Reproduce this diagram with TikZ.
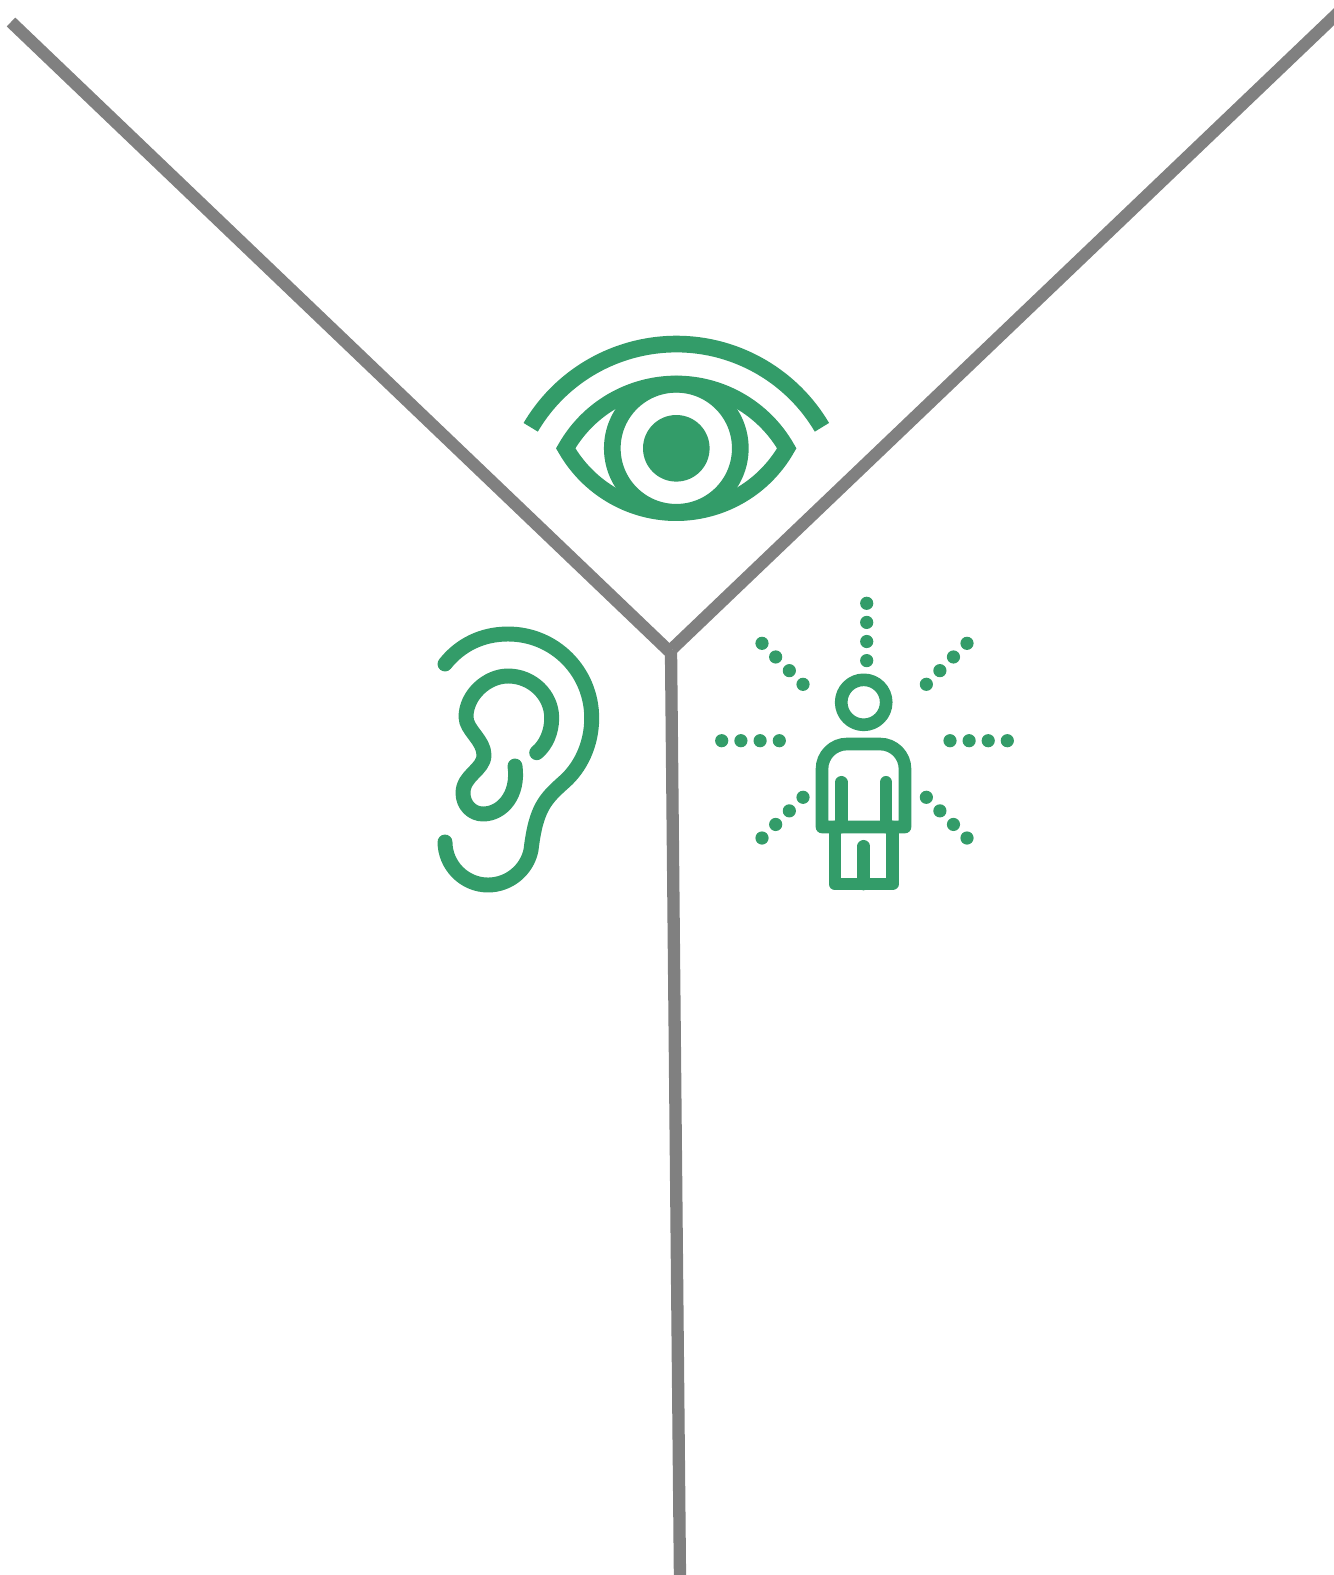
\documentclass[tikz,border=0pt]{standalone}
\usepackage{xcolor}
\usepackage{tikz}
\definecolor{icongreen}{rgb}{0.20, 0.61, 0.41}
\definecolor{spokegray}{rgb}{0.50, 0.50, 0.50}

\begin{document}
\begin{tikzpicture}[
  x=0.02cm, y=-0.02cm,
  spoke/.style={draw=spokegray, line width=7pt},
  eyeline/.style={draw=icongreen, line width=9.5pt},
  earline/.style={draw=icongreen, line width=8.5pt, line cap=round, line join=round},
  bodyline/.style={draw=icongreen, line width=7.2pt, line cap=round, line join=round},
  dotmark/.style={fill=icongreen}
]
  \useasboundingbox (0,0) rectangle (1334,1575);

  % Three spokes
  \coordinate (hubl)   at (670,652);
  \coordinate (hubr)   at (672,649);
  \coordinate (hubb)   at (671,650);
  \coordinate (topl)   at (11,22);
  \coordinate (topr)   at (1340,11);
  \coordinate (bottom) at (680,1580);
  \draw[spoke] (topl) -- (hubl);
  \draw[spoke] (topr) -- (hubr);
  \draw[spoke] (hubb) -- (bottom);

  % Eye
  \coordinate (eye) at (676.3,448.3);
  \draw[eyeline] (530.7,427.3) arc[start angle=-149.5, end angle=-30.5, radius=169];
  \draw[eyeline, miter limit=10] (565.7,448.3) arc[start angle=-150.4, end angle=-29.6, radius=127.1]
        arc[start angle=29.6, end angle=150.4, radius=127.1] -- cycle;
  \draw[eyeline] (eye) circle[radius=64];
  \fill[dotmark] (eye) circle[radius=33.3];

  % Ear
  \draw[earline] (445,664) .. controls (460,645) and (482,634) .. (508,634)
        .. controls (555,634) and (591.7,672) .. (591.7,718)
        .. controls (591.7,745) and (580,768) .. (564,782)
        .. controls (545,799) and (536,808) .. (531,850)
        .. controls (527,870) and (509,885) .. (488,885)
        .. controls (464,885) and (445,865) .. (445,842);
  \draw[earline] (536.7,752.7) .. controls (546,745) and (551.7,732) .. (551.7,718)
        .. controls (551.7,695) and (532,676) .. (508,676)
        .. controls (487,676) and (466,695) .. (466,717)
        .. controls (466,730) and (484,740) .. (484,755)
        .. controls (484,770) and (463,775) .. (463,793)
        .. controls (463,805) and (472,814) .. (483,814)
        .. controls (502,814) and (519,795) .. (515,766);

  % Person
  \draw[bodyline] (863.7,702.3) circle[radius=22.5];
  \draw[bodyline] (822,827) -- (822,769) arc[start angle=180, end angle=270, radius=25]
        -- (880,744) arc[start angle=270, end angle=360, radius=25] -- (905,827) -- cycle;
  \draw[bodyline] (841.3,782.3) -- (841.3,827);
  \draw[bodyline] (886,782.3) -- (886,827);
  \draw[bodyline] (835,827) -- (835,884) -- (892.5,884) -- (892.5,827);
  \draw[bodyline] (863.7,846.3) -- (863.7,884);

  % Dots round the person
  \foreach \d in {0,1,2,3} {
    \fill[dotmark] (866.7,603.3+19.1*\d) circle[radius=6.6];
    \fill[dotmark] (721.7+19.2*\d,740.7) circle[radius=6.6];
    \fill[dotmark] (950+19.1*\d,740.7) circle[radius=6.6];
    \fill[dotmark] (762+13.67*\d,643.3+13.67*\d) circle[radius=6.6];
    \fill[dotmark] (967-13.55*\d,643.3+13.67*\d) circle[radius=6.6];
    \fill[dotmark] (762+13.67*\d,838-13.57*\d) circle[radius=6.6];
    \fill[dotmark] (967-13.55*\d,838-13.57*\d) circle[radius=6.6];
  }
\end{tikzpicture}
\end{document}
